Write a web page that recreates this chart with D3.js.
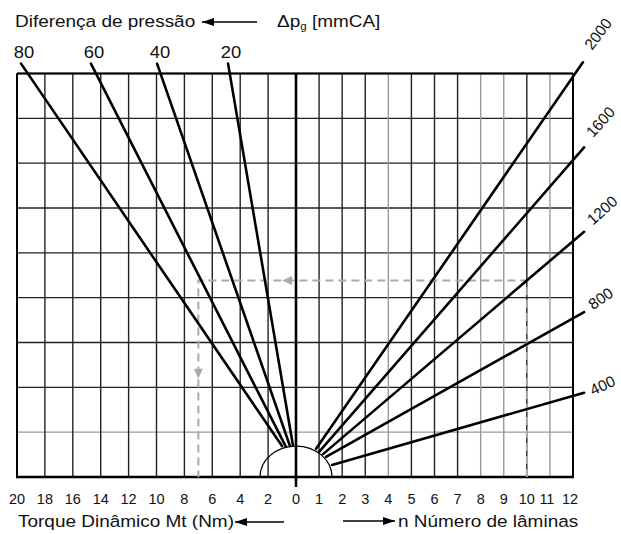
<!DOCTYPE html>
<html>
<head>
    <meta charset='utf-8'>
</head>
<style>
    body { margin: 0; background: #fff; }
    text { font-family: "Liberation Sans", Arial, Helvetica, sans-serif; fill: #111; }
    .grid { stroke: #222; stroke-width: 1.4px; }
    .grid.faint { stroke: #999; }
    .curve { stroke: #000; stroke-width: 2.6px; fill: none; stroke-linecap: round; }
    .guide { stroke: #aaa; stroke-width: 2px; stroke-dasharray: 8,5; fill: none; }
</style>
<body>
    <div id='chart'></div>
    <script src="https://d3js.org/d3.v7.min.js"></script>
    <script>
        // tick labels
        var torqueTicks = [20, 18, 16, 14, 12, 10, 8, 6, 4, 2, 0];
        var laminaTicks = [1, 2, 3, 4, 5, 6, 7, 8, 9, 10, 11, 12];
        var rowLines = [0, 1, 2, 3, 4, 5, 6, 7, 8, 9];

        // pressure lines (left half): [torque Nm, row]
        var pressureValues = [80, 60, 40, 20];
        var pressureFrom = [[1.00, 0.69], [0.72, 0.67], [0.43, 0.69], [0.22, 0.71]];
        var pressureTo = [[19.71, 9.22], [14.70, 9.22], [9.96, 9.22], [4.87, 9.22]];

        // speed lines (right half): [n, row]
        var rpmValues = [2000, 1600, 1200, 800, 400];
        var rpmFrom = [[0.87, 0.63], [1.00, 0.56], [1.17, 0.51], [1.30, 0.45], [1.56, 0.27]];
        var rpmTo = [[12.43, 9.25], [12.48, 7.35], [12.48, 5.47], [12.48, 3.68], [12.48, 1.88]];

        // worked example (dashed)
        var exampleN = 10;
        var exampleRpm = 1200;
        var exampleTorque = 7;

        var width = 621, height = 534;
        var stretch = 1.15;

        var xT = d3.scaleLinear().domain([0, 20]).range([296, 17]);
        var xN = d3.scaleLinear().domain([0, 12]).range([296, 573]);
        var y = d3.scaleLinear().domain([0, 9]).range([477, 73.5]);

        var svg = d3.select('#chart').append('svg')
            .attr('width', width)
            .attr('height', height);

        svg.append('defs').append('marker')
            .attr('id', 'head')
            .attr('viewBox', '0 0 12 8')
            .attr('refX', 12).attr('refY', 4)
            .attr('markerWidth', 12).attr('markerHeight', 8)
            .attr('markerUnits', 'userSpaceOnUse')
            .attr('orient', 'auto')
            .append('path').attr('d', 'M0,0 L12,4 L0,8 Z').attr('fill', '#000');

        function label(g, txt, x, yy, size, anchor, sx, rot) {
            return g.append('text')
                .attr('transform', 'translate(' + x + ',' + yy + ') scale(' + sx + ',1)' + (rot ? ' rotate(' + rot + ')' : ''))
                .attr('text-anchor', anchor)
                .style('font-size', size + 'px')
                .text(txt);
        }

        // grid
        var grid = svg.append('g');
        grid.selectAll('.hl').data(rowLines).enter().append('line')
            .attr('class', function(d) { return d == 1 ? 'grid faint' : 'grid'; })
            .attr('x1', xT(20)).attr('x2', xN(12))
            .attr('y1', function(d) { return y(d); })
            .attr('y2', function(d) { return y(d); });
        grid.selectAll('.vl').data(torqueTicks.filter(function(d) { return d > 0; })).enter().append('line')
            .attr('class', 'grid')
            .attr('x1', function(d) { return xT(d); })
            .attr('x2', function(d) { return xT(d); })
            .attr('y1', y(0)).attr('y2', y(9));
        var faintN = [4, 8, 9, 11];
        grid.selectAll('.vr').data(laminaTicks).enter().append('line')
            .attr('class', function(d) { return faintN.indexOf(d) >= 0 ? 'grid faint' : 'grid'; })
            .attr('x1', function(d) { return xN(d); })
            .attr('x2', function(d) { return xN(d); })
            .attr('y1', y(0)).attr('y2', y(9));

        // frame
        grid.append('line').attr('x1', xT(20)).attr('x2', xT(20)).attr('y1', y(0)).attr('y2', y(9))
            .attr('stroke', '#000').attr('stroke-width', 2);
        grid.append('line').attr('x1', xN(12)).attr('x2', xN(12)).attr('y1', y(0)).attr('y2', y(9))
            .attr('stroke', '#000').attr('stroke-width', 2);
        grid.append('line').attr('x1', xT(20)).attr('x2', xN(12)).attr('y1', y(9)).attr('y2', y(9))
            .attr('stroke', '#000').attr('stroke-width', 2);
        grid.append('line').attr('x1', xT(20) - 1).attr('x2', xN(12) + 1).attr('y1', y(0)).attr('y2', y(0))
            .attr('stroke', '#000').attr('stroke-width', 2.6);
        grid.append('line').attr('x1', xT(0)).attr('x2', xT(0)).attr('y1', y(0) + 10).attr('y2', y(9))
            .attr('stroke', '#000').attr('stroke-width', 2.6);

        // dashed example
        var k = rpmValues.indexOf(exampleRpm);
        var a = rpmFrom[k], b = rpmTo[k];
        var exRow = a[1] + (exampleN - a[0]) * (b[1] - a[1]) / (b[0] - a[0]);
        svg.append('path').attr('class', 'guide')
            .attr('d', d3.line()([[xN(exampleN), y(0)], [xN(exampleN), y(exRow)],
                [xT(exampleTorque), y(exRow)], [xT(exampleTorque), y(0)]]));
        var arrowH = xT(1), arrowV = y(exRow / 2);
        svg.append('path').attr('fill', '#aaa')
            .attr('d', 'M' + arrowH + ',' + y(exRow) + ' l10,-4.5 l0,9 Z');
        svg.append('path').attr('fill', '#aaa')
            .attr('d', 'M' + xT(exampleTorque) + ',' + arrowV + ' l-4.5,-10 l9,0 Z');

        // hub
        var cx = xT(0), cy = y(0);
        var rx = xN(1.56) - xN(0), ry = y(0) - y(0.69);
        svg.append('path')
            .attr('d', 'M' + (cx - rx) + ',' + cy + ' A' + rx + ',' + ry + ' 0 0 1 ' + (cx + rx) + ',' + cy)
            .attr('fill', 'none').attr('stroke', '#000').attr('stroke-width', 1.3);

        // pressure lines
        var left = svg.append('g');
        left.selectAll('line').data(pressureValues).enter().append('line')
            .attr('class', 'curve')
            .attr('x1', function(d, i) { return xT(pressureFrom[i][0]); })
            .attr('y1', function(d, i) { return y(pressureFrom[i][1]); })
            .attr('x2', function(d, i) { return xT(pressureTo[i][0]); })
            .attr('y2', function(d, i) { return y(pressureTo[i][1]); });
        pressureValues.forEach(function(v, i) {
            label(left, v, xT(pressureTo[i][0]) + 3, y(pressureTo[i][1]) - 6, 16, 'middle', stretch);
        });

        // speed lines
        var right = svg.append('g');
        right.selectAll('line').data(rpmValues).enter().append('line')
            .attr('class', 'curve')
            .attr('x1', function(d, i) { return xN(rpmFrom[i][0]); })
            .attr('y1', function(d, i) { return y(rpmFrom[i][1]); })
            .attr('x2', function(d, i) { return xN(rpmTo[i][0]); })
            .attr('y2', function(d, i) { return y(rpmTo[i][1]); });
        rpmValues.forEach(function(v, i) {
            var x1 = xN(rpmFrom[i][0]), y1 = y(rpmFrom[i][1]);
            var x2 = xN(rpmTo[i][0]), y2 = y(rpmTo[i][1]);
            var deg = Math.atan2(y1 - y2, x2 - x1) * 180 / Math.PI;
            label(right, v, x2 + 9, y2 + 9 - 0.37 * deg, 15.5, 'start', 1, -(0.7 * deg + 14));
        });

        // tick labels
        var ticks = svg.append('g').style('font-size', '14.5px');
        ticks.selectAll('.tl').data(torqueTicks).enter().append('text')
            .attr('x', function(d) { return xT(d); })
            .attr('y', 504)
            .attr('text-anchor', 'middle')
            .text(function(d) { return d; });
        ticks.selectAll('.tr').data(laminaTicks).enter().append('text')
            .attr('x', function(d) { return xN(d) - (d > 10 ? 3 : 0); })
            .attr('y', 504)
            .attr('text-anchor', 'middle')
            .text(function(d) { return d; });

        // titles
        var titles = svg.append('g');
        label(titles, 'Diferença de pressão', 15, 27, 16.5, 'start', stretch);
        titles.append('line').attr('x1', 257).attr('x2', 202).attr('y1', 22).attr('y2', 22)
            .attr('stroke', '#000').attr('stroke-width', 1.3).attr('marker-end', 'url(#head)');
        var dp = label(titles, '', 277, 27, 16.5, 'start', stretch);
        dp.append('tspan').text('\u0394p');
        dp.append('tspan').attr('dy', 3).style('font-size', '10px').text('g');
        dp.append('tspan').attr('dy', -3).text(' [mmCA]');

        label(titles, 'Torque Dinâmico Mt (Nm)', 18, 527, 16.5, 'start', stretch);
        titles.append('line').attr('x1', 284).attr('x2', 235).attr('y1', 522).attr('y2', 522)
            .attr('stroke', '#000').attr('stroke-width', 1.3).attr('marker-end', 'url(#head)');
        titles.append('line').attr('x1', 343).attr('x2', 395).attr('y1', 521).attr('y2', 521)
            .attr('stroke', '#000').attr('stroke-width', 1.3).attr('marker-end', 'url(#head)');
        label(titles, 'n Número de lâminas', 398, 527, 16.5, 'start', stretch);
    </script>
</body>
</html>
